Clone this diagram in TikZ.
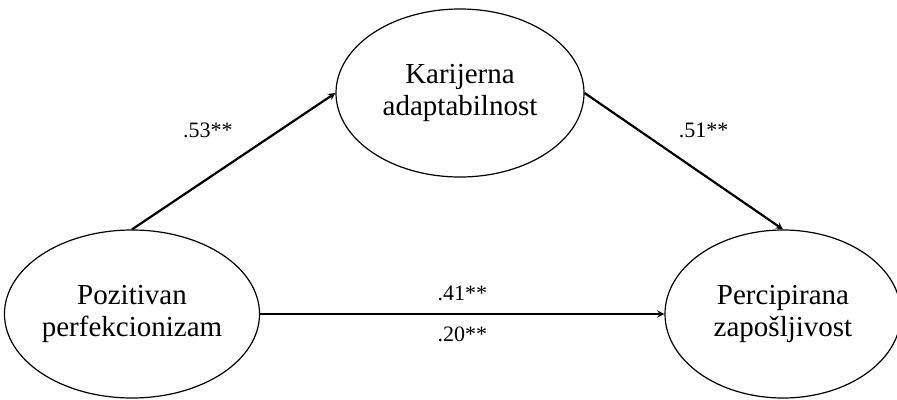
\documentclass[tikz,border=0pt]{standalone}
\usepackage{fontspec}
\setmainfont{Liberation Serif}
\usepackage{tikz}
\usetikzlibrary{arrows,shapes,positioning}

\begin{document}
\begin{tikzpicture}[
    x=1pt,y=-1pt,
    construct/.style={ellipse,draw,line width=1.2pt,minimum width=248pt,minimum height=168pt,inner sep=0pt,align=center,font=\fontsize{29}{32}\selectfont},
    coef/.style={inner sep=0pt,font=\fontsize{22}{24}\selectfont},
    arrow/.style={->,line width=2.2pt,>=stealth}
]
    \useasboundingbox (0,0) rectangle (897,399);

    % Predictor, mediator, outcome
    \node[construct] (pp) at (132,314) {Pozitivan\\perfekcionizam};
    \node[construct] (ka) at (460,93) {Karijerna\\adaptabilnost};
    \node[construct,minimum width=236pt] (pz) at (783,314) {Percipirana\\zapošljivost};

    % Paths
    \draw[arrow] (pp.north) -- (ka.west) node[coef,midway,above left=22pt and 0pt] {.53**};
    \draw[arrow] (ka.east) -- (pz.north) node[coef,midway,above right=22pt and -6pt] {.51**};
    \draw[arrow] (pp.east) -- (pz.west)
        node[coef,midway,above=12pt] {.41**}
        node[coef,midway,below=12pt] {.20**};
\end{tikzpicture}
\end{document}
